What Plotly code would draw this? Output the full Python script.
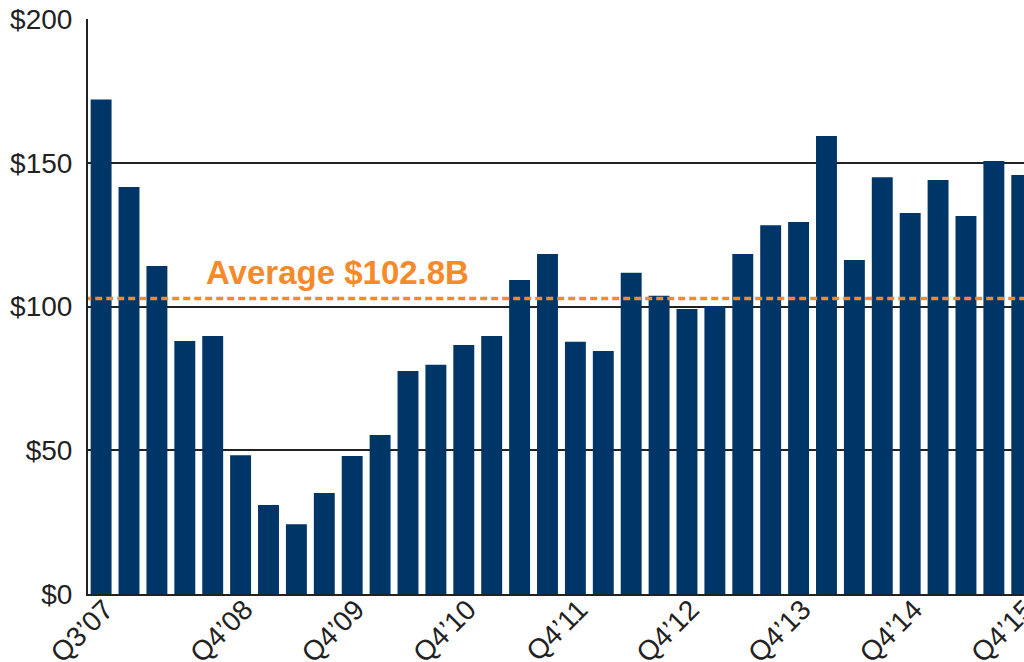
import plotly.graph_objects as go

quarters = ["Q3’07", "Q4’07", "Q1’08", "Q2’08", "Q3’08", "Q4’08",
            "Q1’09", "Q2’09", "Q3’09", "Q4’09",
            "Q1’10", "Q2’10", "Q3’10", "Q4’10",
            "Q1’11", "Q2’11", "Q3’11", "Q4’11",
            "Q1’12", "Q2’12", "Q3’12", "Q4’12",
            "Q1’13", "Q2’13", "Q3’13", "Q4’13",
            "Q1’14", "Q2’14", "Q3’14", "Q4’14",
            "Q1’15", "Q2’15", "Q3’15", "Q4’15"]
values = [172, 141.6, 114.1, 88, 89.7, 48.3,
          31, 24.3, 35.1, 48,
          55.3, 77.6, 79.7, 86.6,
          89.7, 109.2, 118.3, 87.7,
          84.5, 111.7, 103.7, 99.1,
          100.2, 118.3, 128.3, 129.4,
          159.3, 116.2, 145, 132.5,
          144, 131.5, 150.6, 145.7]
tick_labels = ["Q3’07", "Q4’08", "Q4’09", "Q4’10", "Q4’11", "Q4’12", "Q4’13", "Q4’14", "Q4’15"]
average = 102.8
y_ticks = [0, 50, 100, 150, 200]
y_tick_labels = ["$0", "$50", "$100", "$150", "$200"]

x_idx = list(range(len(quarters)))
tick_pos = [quarters.index(t) for t in tick_labels]

fig = go.Figure()
fig.add_trace(go.Bar(x=x_idx, y=values, marker_color="#003567", width=0.75,
                     marker_line_width=0, hoverinfo="skip"))
fig.add_trace(go.Scatter(x=[-1, len(quarters) + 1], y=[average, average], mode="lines",
                         line=dict(color="#F58A2A", width=3.5, dash="7px,4px"),
                         hoverinfo="skip"))
fig.add_annotation(x=3.68, y=average, xref="x", yref="y", text="<b>Average $102.8B</b>",
                   showarrow=False, xanchor="left", yanchor="bottom", yshift=5,
                   font=dict(family="Liberation Sans, Arial", size=33, color="#F58A2A"))

fig.update_layout(
    width=1024, height=662,
    margin=dict(l=88, r=0, t=19, b=68, autoexpand=False),
    paper_bgcolor="white", plot_bgcolor="white",
    showlegend=False,
    font=dict(family="Liberation Sans, Arial", color="#222222"),
    bargap=0.25,
)
fig.update_xaxes(range=[-0.47, 33.08], tickmode="array", tickvals=tick_pos, ticktext=tick_labels,
                 tickangle=-45, tickfont=dict(size=28, color="#222222"), automargin=False,
                 ticklabeloverflow="allow", ticklabelstandoff=-14, ticklabelshift=4,
                 showgrid=False, showline=True, linecolor="#222222", linewidth=2,
                 ticks="", zeroline=False)
fig.update_yaxes(range=[0, 200], tickmode="array", tickvals=y_ticks, ticktext=y_tick_labels,
                 tickfont=dict(size=28, color="#222222"), automargin=False,
                 showgrid=True, gridcolor="#222222", gridwidth=2,
                 showline=True, linecolor="#222222", linewidth=2,
                 ticks="outside", ticklen=8, tickcolor="white", zeroline=False)

fig.write_html("out.html", config={"displayModeBar": False},
               post_script="document.body.style.margin='0';document.body.style.overflow='hidden';")
